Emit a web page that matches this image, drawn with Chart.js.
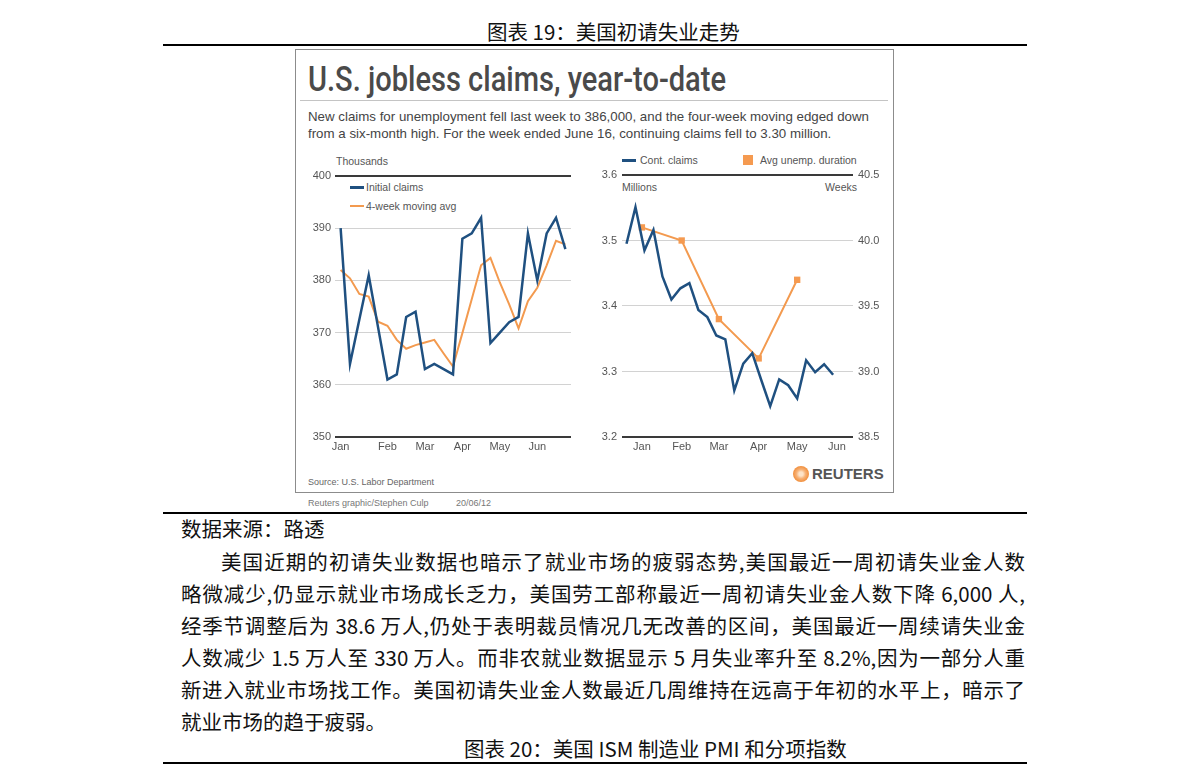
<!DOCTYPE html>
<html lang="zh">
<head>
<meta charset="utf-8">
<script src="https://cdn.jsdelivr.net/npm/chart.js@4.4.1/dist/chart.umd.min.js"></script>
<style>
html,body{margin:0;padding:0;background:#fff;}
body{width:1191px;height:781px;position:relative;overflow:hidden;font-family:"Noto Sans CJK SC",sans-serif;}
.abs{position:absolute;white-space:nowrap;}
.rule{position:absolute;left:163px;width:864px;height:2px;background:#000;}
.cn{font-family:"Noto Sans CJK SC","Liberation Sans",sans-serif;font-size:20.5px;color:#111;line-height:32px;}
.line{position:absolute;left:181px;width:844px;text-align:justify;text-align-last:justify;text-justify:inter-character;}
.en{font-family:"Liberation Sans",Arial,sans-serif;color:#555;}
#box{position:absolute;left:295px;top:49px;width:597px;height:442px;border:1px solid #8c8c8c;}
#title{transform-origin:0 0;}
canvas{position:absolute;}
</style>
</head>
<body>
<!-- document text -->
<div class="abs cn" style="left:487px;top:15px;">图表 19：美国初请失业走势</div>
<div class="rule" style="top:44px;"></div>

<div id="box"></div>
<div id="title" class="abs" style="left:308px;top:62px;font-family:Roboto,'Liberation Sans',sans-serif;font-weight:500;font-size:35px;line-height:35px;color:#4a4a4a;">U.S. jobless claims, year-to-date</div>
<div class="abs" style="left:300px;top:100px;width:588px;height:1px;background:#c4c4c4;"></div>
<div class="abs en" style="left:308px;top:108px;font-size:13.3px;line-height:17px;color:#444;">New claims for unemployment fell last week to 386,000, and the four-week moving edged down</div>
<div class="abs en" style="left:308px;top:125px;font-size:13.3px;line-height:17px;color:#444;">from a six-month high. For the week ended June 16, continuing claims fell to 3.30 million.</div>

<!-- left chart annotations -->
<div class="abs en" style="left:336px;top:154px;font-size:10.5px;line-height:14px;">Thousands</div>
<div class="abs" style="left:350px;top:186px;width:14px;height:2.5px;background:#1f5080;"></div>
<div class="abs en" style="left:366px;top:180px;font-size:10.5px;line-height:14px;">Initial claims</div>
<div class="abs" style="left:350px;top:205px;width:14px;height:2px;background:#f39a4f;"></div>
<div class="abs en" style="left:366px;top:199px;font-size:10.5px;line-height:14px;">4-week moving avg</div>

<!-- right chart annotations -->
<div class="abs" style="left:622px;top:159px;width:14px;height:2.5px;background:#1f5080;"></div>
<div class="abs en" style="left:640px;top:153px;font-size:10.5px;line-height:14px;">Cont. claims</div>
<div class="abs" style="left:743px;top:155px;width:10px;height:10px;background:#f59a50;"></div>
<div class="abs en" style="left:760px;top:153px;font-size:10.5px;line-height:14px;">Avg unemp. duration</div>
<div class="abs en" style="left:622px;top:180px;font-size:10.5px;line-height:14px;">Millions</div>
<div class="abs en" style="left:757px;width:100px;text-align:right;top:180px;font-size:10.5px;line-height:14px;">Weeks</div>

<div class="abs en" style="left:308px;top:476px;font-size:9px;line-height:12px;color:#666;">Source: U.S. Labor Department</div>
<div class="abs" style="left:793px;top:466px;width:16px;height:16px;border-radius:50%;background:radial-gradient(circle,#fde3c8 0 18%,#f7b277 40%,#f08a34 75%,#f29a4e 100%);"></div>
<div class="abs" style="left:812px;top:465px;font-family:'Liberation Sans',Arial,sans-serif;font-weight:bold;font-size:15px;line-height:18px;color:#555;">REUTERS</div>
<div class="abs en" style="left:308px;top:497px;font-size:9px;line-height:12px;color:#777;">Reuters graphic/Stephen Culp</div>
<div class="abs en" style="left:456px;top:497px;font-size:9px;line-height:12px;color:#777;">20/06/12</div>

<div class="rule" style="top:512px;"></div>
<div class="abs cn" style="left:181px;top:512px;">数据来源：路透</div>
<div class="line cn" style="left:221px;width:804px;top:545px;">美国近期的初请失业数据也暗示了就业市场的疲弱态势,美国最近一周初请失业金人数</div>
<div class="line cn" style="top:577px;">略微减少,仍显示就业市场成长乏力，美国劳工部称最近一周初请失业金人数下降 6,000 人,</div>
<div class="line cn" style="top:609px;">经季节调整后为 38.6 万人,仍处于表明裁员情况几无改善的区间，美国最近一周续请失业金</div>
<div class="line cn" style="top:641px;">人数减少 1.5 万人至 330 万人。而非农就业数据显示 5 月失业率升至 8.2%,因为一部分人重</div>
<div class="line cn" style="top:673px;">新进入就业市场找工作。美国初请失业金人数最近几周维持在远高于年初的水平上，暗示了</div>
<div class="abs cn" style="left:181px;top:705px;">就业市场的趋于疲弱。</div>
<div class="abs cn" style="left:464px;top:732px;">图表 20：美国 ISM 制造业 PMI 和分项指数</div>
<div class="rule" style="top:762px;"></div>

<canvas id="c1" width="275" height="307" style="left:300px;top:150px;"></canvas>
<canvas id="c2" width="300" height="307" style="left:590px;top:150px;"></canvas>

<script>
// ---- data: left chart (thousands, weekly) ----
const weekTickLabels = ['Jan','','','','','Feb','','','','Mar','','','','Apr','','','','May','','','','Jun','','',''];
const initialClaims = [390,364,372.5,381,371,361,362,373,374,363,364,363,362,388,389,392,368,370,372,373,389,380,389,392,386];
const movingAvg4wk = [382,380.4,377.4,376.9,372.1,371.3,368.6,366.9,367.6,368.1,368.6,366,363.5,369.9,376.4,382.9,384.3,379.6,375.4,370.8,376,378.6,382.9,387.6,386.9];

// ---- data: right chart ----
const contClaimsWeeks = ['2011-12-31','2012-01-07','2012-01-14','2012-01-21','2012-01-28','2012-02-04','2012-02-11','2012-02-18','2012-02-25','2012-03-03','2012-03-10','2012-03-17','2012-03-24','2012-03-31','2012-04-07','2012-04-14','2012-04-21','2012-04-28','2012-05-05','2012-05-12','2012-05-19','2012-05-26','2012-06-02','2012-06-09'];
const contClaims = [3.495,3.551,3.485,3.516,3.445,3.41,3.427,3.435,3.394,3.383,3.355,3.349,3.271,3.312,3.328,3.287,3.247,3.288,3.279,3.259,3.317,3.299,3.311,3.295];
const durationMonths = ['2012-01-12','2012-02-12','2012-03-12','2012-04-12','2012-05-12'];
const avgDuration = [40.1,40.0,39.4,39.1,39.7];
const monthTickDates = ['2012-01-12','2012-02-12','2012-03-12','2012-04-12','2012-05-12','2012-06-12'];
const monthTickLabels = ['Jan','Feb','Mar','Apr','May','Jun'];

// fit title width to reference
(function(){
  const t = document.getElementById('title');
  const w = t.getBoundingClientRect().width;
  if (w > 0) t.style.transform = 'scaleX(' + (418 / w) + ')';
})();

const BLUE = '#1f5080', ORANGE = '#f39a4f';
const day = s => (Date.parse(s + 'T00:00:00Z') - Date.parse('2012-01-01T00:00:00Z')) / 86400000;
const tickFont = {family:'Liberation Sans, Arial, sans-serif', size:11};
const isEdge = (v, lo, hi) => Math.abs(v - lo) < 1e-6 || Math.abs(v - hi) < 1e-6;
const gridColor = (lo, hi) => c => isEdge(c.tick.value, lo, hi) ? '#3a3a3a' : '#d2d2d2';
const gridWidth = (lo, hi) => c => isEdge(c.tick.value, lo, hi) ? 2 : 1;

const common = {
  responsive:false, animation:false, devicePixelRatio:1,
  plugins:{legend:{display:false}, title:{display:false}, tooltip:{enabled:false}},
  elements:{point:{radius:0}, line:{tension:0, borderJoinStyle:'miter'}}
};

// ---- left chart ----
const monthIdx = weekTickLabels.map((l,i)=>l ? i : -1).filter(i=>i>=0);
new Chart(document.getElementById('c1'), {
  type:'line',
  data:{datasets:[
    {data:initialClaims.map((v,i)=>({x:i,y:v})), borderColor:BLUE, borderWidth:2.5, pointRadius:0},
    {data:movingAvg4wk.map((v,i)=>({x:i,y:v})), borderColor:ORANGE, borderWidth:2, pointRadius:0}
  ]},
  options:Object.assign({}, common, {
    layout:{padding:{top:26,right:4,left:0,bottom:0}},
    scales:{
      x:{type:'linear', min:-0.6, max:24.6,
         afterBuildTicks:s=>{ s.ticks = monthIdx.map(v=>({value:v})); },
         afterFit:s=>{ s.height = 20; },
         grid:{display:false, drawTicks:false}, border:{display:false},
         ticks:{autoSkip:false, maxRotation:0, padding:3, color:'#555', font:tickFont,
                callback:(v)=>weekTickLabels[Math.round(v)]}},
      y:{min:350, max:400,
         afterFit:s=>{ s.width = 35; },
         grid:{drawTicks:false, color:gridColor(350,400), lineWidth:gridWidth(350,400)},
         border:{display:false},
         ticks:{stepSize:10, padding:4, color:'#555', font:tickFont}}
    }
  })
});

// ---- right chart ----
new Chart(document.getElementById('c2'), {
  type:'line',
  data:{datasets:[
    {data:contClaims.map((v,i)=>({x:day(contClaimsWeeks[i]),y:v})), yAxisID:'y', borderColor:BLUE, borderWidth:2.5, pointRadius:0},
    {data:avgDuration.map((v,i)=>({x:day(durationMonths[i]),y:v})), yAxisID:'y2', borderColor:ORANGE, borderWidth:2,
     pointStyle:'rect', pointRadius:4.5, pointBackgroundColor:'#f59a50', pointBorderColor:'#f59a50', pointBorderWidth:0}
  ]},
  options:Object.assign({}, common, {
    layout:{padding:{top:25,right:0,left:0,bottom:0}},
    scales:{
      x:{type:'linear', min:-4.5, max:175.5,
         afterBuildTicks:s=>{ s.ticks = monthTickDates.map(d=>({value:day(d)})); },
         afterFit:s=>{ s.height = 20; },
         grid:{display:false, drawTicks:false}, border:{display:false},
         ticks:{autoSkip:false, maxRotation:0, padding:3, color:'#555', font:tickFont,
                callback:(v,i)=>monthTickLabels[i]}},
      y:{position:'left', min:3.2, max:3.6,
         afterFit:s=>{ s.width = 32; },
         grid:{drawTicks:false, color:gridColor(3.2,3.6), lineWidth:gridWidth(3.2,3.6)},
         border:{display:false},
         ticks:{stepSize:0.1, padding:5, color:'#555', font:tickFont, callback:v=>Number(v).toFixed(1)}},
      y2:{position:'right', min:38.5, max:40.5,
         afterFit:s=>{ s.width = 37; },
         grid:{display:false, drawTicks:false}, border:{display:false},
         ticks:{stepSize:0.5, padding:5, color:'#555', font:tickFont, callback:v=>Number(v).toFixed(1)}}
    }
  })
});
</script>
</body>
</html>
